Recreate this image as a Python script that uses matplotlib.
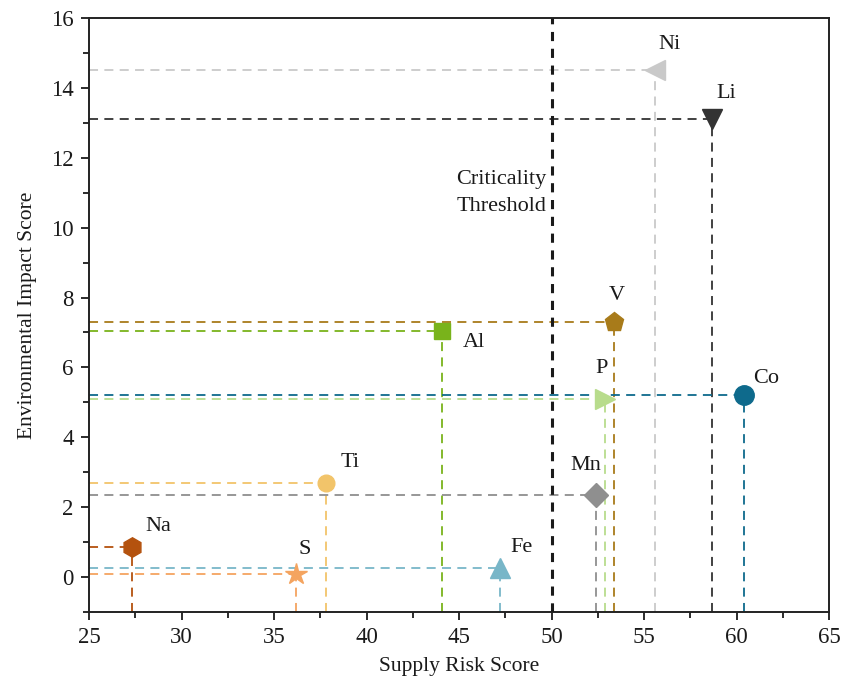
import matplotlib
matplotlib.use("Agg")
import matplotlib.pyplot as plt
from matplotlib.ticker import MultipleLocator

plt.rcParams['font.family'] = ['Liberation Serif', 'DejaVu Serif']

elements = ['Ni', 'Li', 'V', 'Al', 'P', 'Co', 'Ti', 'Mn', 'Fe', 'S', 'Na']
supply_risk = [55.6, 58.7, 53.4, 44.1, 52.9, 60.4, 37.8, 52.4, 47.2, 36.2, 27.3]
env_impact = [14.5, 13.1, 7.3, 7.05, 5.1, 5.2, 2.7, 2.35, 0.27, 0.1, 0.87]
colors = ['#c9c9c9', '#333333', '#a87b1a', '#79b31b', '#b8dc8c', '#0e6a8c',
          '#f2c46a', '#8f8f8f', '#78b6c8', '#f4a460', '#b4520e']
markers = ['<', 'v', 'p', 's', '>', 'o', 'o', 'D', '^', '*', 'h']
msizes = [15, 15, 14, 12, 15, 14, 12, 12, 15, 16, 14]
label_offsets = [(14, 26), (14, 26), (2, 26), (32, -12), (-4, 30), (22, 17),
                 (24, 20), (-10, 29), (22, 20), (8, 24), (27, 20)]
threshold = 50

fig = plt.figure(figsize=(8.48, 6.85), dpi=100)
ax = fig.add_axes([0.105, 0.1066, 0.8726, 0.8671])
xmin, xmax, ymin, ymax = 25, 65, -1, 16

for e, x, y, c, m, s, off in zip(elements, supply_risk, env_impact, colors,
                                  markers, msizes, label_offsets):
    ax.plot([xmin, x], [y, y], ls=(0, (5, 3.5)), color=c, lw=1.3, zorder=2)
    ax.plot([x, x], [ymin, y], ls=(0, (5, 3.5)), color=c, lw=1.3, zorder=2)
    ax.plot([x], [y], marker=m, ms=s, color=c, mec=c, ls='none', zorder=4)
    ax.annotate(e, (x, y), xytext=off, textcoords='offset pixels',
                ha='center', va='center', fontsize=16, color='#1a1a1a')

ax.axvline(threshold, color='#1a1a1a', lw=2.2, ls=(0, (3, 2.5)), zorder=3)
ax.text(threshold - 0.3, 11.0, 'Criticality\nThreshold', ha='right', va='center',
        fontsize=16, color='#1a1a1a', linespacing=1.55)

ax.set_xlim(xmin, xmax)
ax.set_ylim(ymin, ymax)
ax.xaxis.set_major_locator(MultipleLocator(5))
ax.xaxis.set_minor_locator(MultipleLocator(2.5))
ax.yaxis.set_major_locator(MultipleLocator(2))
ax.yaxis.set_minor_locator(MultipleLocator(1))
ax.tick_params(which='both', direction='out', top=False, right=False,
               labelsize=16.5, width=1.3, colors='#1a1a1a', pad=5)
ax.tick_params(which='major', length=6)
ax.tick_params(which='minor', length=4)
for sp in ax.spines.values():
    sp.set_linewidth(1.4)
    sp.set_color('#222222')

ax.set_xlabel('Supply Risk Score', fontsize=15.5, color='#1a1a1a', labelpad=6)
ax.set_ylabel('Environmental Impact Score', fontsize=15.5, color='#1a1a1a', labelpad=10)

fig.savefig('out.png', dpi=100)
